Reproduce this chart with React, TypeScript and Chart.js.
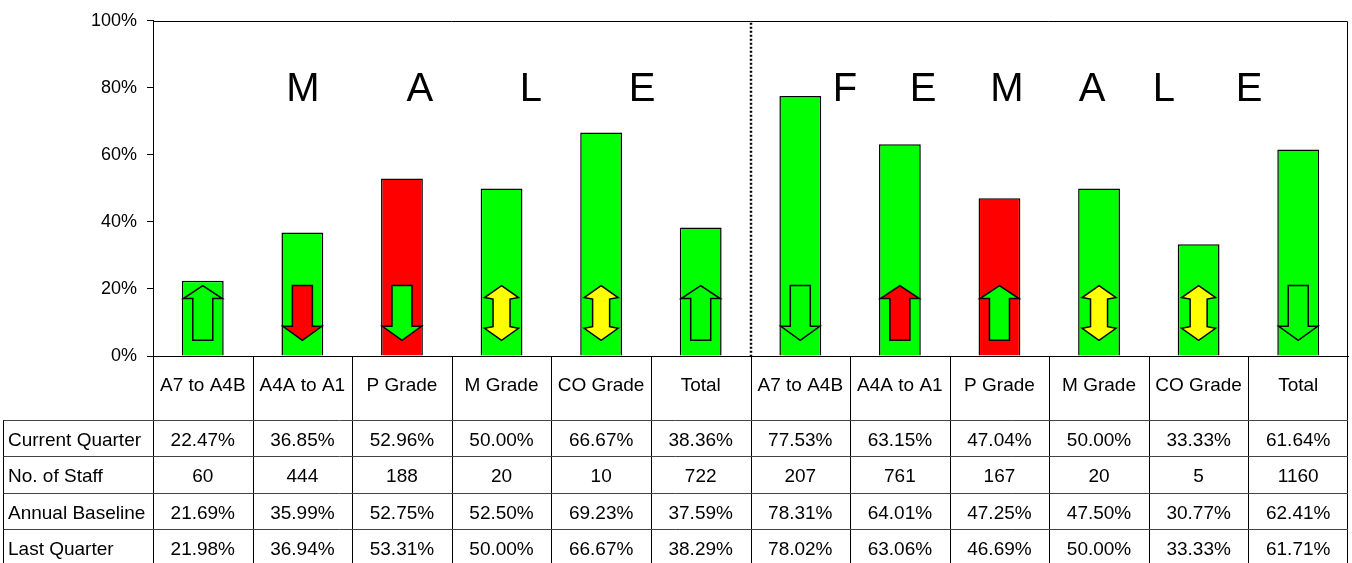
import React, { useEffect, useRef } from "react";
import { Chart, registerables } from "chart.js";

Chart.register(...registerables);

// ---------- data ----------
const categories = [
  "A7 to A4B", "A4A to A1", "P Grade", "M Grade", "CO Grade", "Total",
  "A7 to A4B", "A4A to A1", "P Grade", "M Grade", "CO Grade", "Total",
];
const currentQuarter = [22.47, 36.85, 52.96, 50.0, 66.67, 38.36, 77.53, 63.15, 47.04, 50.0, 33.33, 61.64];
const noOfStaff = [60, 444, 188, 20, 10, 722, 207, 761, 167, 20, 5, 1160];
const annualBaseline = [21.69, 35.99, 52.75, 52.5, 69.23, 37.59, 78.31, 64.01, 47.25, 47.5, 30.77, 62.41];
const lastQuarter = [21.98, 36.94, 53.31, 50.0, 66.67, 38.29, 78.02, 63.06, 46.69, 50.0, 33.33, 61.71];
const barStatus = ["green", "green", "red", "green", "green", "green", "green", "green", "red", "green", "green", "green"];
const trendDirection = ["up", "down", "down", "both", "both", "up", "down", "up", "up", "both", "both", "down"];
const trendStatus = ["green", "red", "green", "yellow", "yellow", "green", "green", "red", "green", "yellow", "yellow", "green"];
const rowLabels = ["Current Quarter", "No. of Staff", "Annual Baseline", "Last Quarter"];
const maleLetters = ["M", "A", "L", "E"];
const femaleLetters = ["F", "E", "M", "A", "L", "E"];
const yMin = 0;
const yMax = 100;
const yStep = 20;
const arrowTopValue = 21;
const arrowBottomValue = 4.7;
const lettersBaselineValue = 76;

// ---------- styles ----------
const FONT = "'Liberation Sans', Arial, sans-serif";
const COLORS: Record<string, string> = { green: "#00FF00", red: "#FF0000", yellow: "#FFFF00" };
const maleLetterFrac = [0.1255, 0.2234, 0.3163, 0.4092];
const femaleLetterFrac = [0.579, 0.6444, 0.7146, 0.7858, 0.846, 0.9172];

const pct = (v: number) => v.toFixed(2) + "%";

export default function App() {
  const ref = useRef<HTMLCanvasElement>(null);

  useEffect(() => {
    const canvas = ref.current;
    if (!canvas) return;

    const overlay = {
      id: "overlay",
      afterDatasetsDraw(chart: any) {
        const ctx = chart.ctx as CanvasRenderingContext2D;
        const meta = chart.getDatasetMeta(0);
        const ys = chart.scales.y;
        const yTop = ys.getPixelForValue(arrowTopValue);
        const yBot = ys.getPixelForValue(arrowBottomValue);
        ctx.save();
        ctx.lineWidth = 1.5;
        ctx.strokeStyle = "#000";
        ctx.lineJoin = "miter";
        meta.data.forEach((bar: any, i: number) => {
          const x = bar.x;
          const dir = trendDirection[i];
          ctx.fillStyle = COLORS[trendStatus[i]];
          ctx.beginPath();
          if (dir === "up") {
            const hw = 19.5, sw = 10, hh = 13;
            ctx.moveTo(x, yTop);
            ctx.lineTo(x + hw, yTop + hh);
            ctx.lineTo(x + sw, yTop + hh);
            ctx.lineTo(x + sw, yBot);
            ctx.lineTo(x - sw, yBot);
            ctx.lineTo(x - sw, yTop + hh);
            ctx.lineTo(x - hw, yTop + hh);
          } else if (dir === "down") {
            const hw = 19.5, sw = 10, hh = 14;
            ctx.moveTo(x - sw, yTop);
            ctx.lineTo(x + sw, yTop);
            ctx.lineTo(x + sw, yBot - hh);
            ctx.lineTo(x + hw, yBot - hh);
            ctx.lineTo(x, yBot);
            ctx.lineTo(x - hw, yBot - hh);
            ctx.lineTo(x - sw, yBot - hh);
          } else {
            const hw = 17, sw = 8.5, hh = 12;
            ctx.moveTo(x, yTop);
            ctx.lineTo(x + hw, yTop + hh);
            ctx.lineTo(x + sw, yTop + hh + 1.5);
            ctx.lineTo(x + sw, yBot - hh - 1.5);
            ctx.lineTo(x + hw, yBot - hh);
            ctx.lineTo(x, yBot);
            ctx.lineTo(x - hw, yBot - hh);
            ctx.lineTo(x - sw, yBot - hh - 1.5);
            ctx.lineTo(x - sw, yTop + hh + 1.5);
            ctx.lineTo(x - hw, yTop + hh);
          }
          ctx.closePath();
          ctx.fill();
          ctx.stroke();
        });
        ctx.restore();
      },
      afterDraw(chart: any) {
        const ctx = chart.ctx as CanvasRenderingContext2D;
        const area = chart.chartArea;
        const xs = chart.scales.x;
        const ys = chart.scales.y;
        const n = categories.length;
        const colW = (area.right - area.left) / n;
        const bounds: number[] = [];
        for (let i = 0; i <= n; i++) bounds.push(area.left + i * colW);

        ctx.save();
        // plot box (top & right)
        ctx.strokeStyle = "#000";
        ctx.lineWidth = 1;
        ctx.beginPath();
        ctx.moveTo(area.left, Math.round(area.top) + 0.5);
        ctx.lineTo(Math.round(area.right) - 0.5, Math.round(area.top) + 0.5);
        ctx.lineTo(Math.round(area.right) - 0.5, area.bottom);
        ctx.stroke();

        // dotted separator between male & female
        const sepX = Math.round((xs.getPixelForValue(5) + xs.getPixelForValue(6)) / 2);
        ctx.save();
        ctx.setLineDash([2, 2]);
        ctx.lineWidth = 2.5;
        ctx.beginPath();
        ctx.moveTo(sepX, area.top + 2);
        ctx.lineTo(sepX, area.bottom);
        ctx.stroke();
        ctx.restore();

        // big letters
        ctx.fillStyle = "#000";
        ctx.font = `40px ${FONT}`;
        ctx.textAlign = "center";
        ctx.textBaseline = "alphabetic";
        const ly = ys.getPixelForValue(lettersBaselineValue);
        maleLetters.forEach((l, i) => ctx.fillText(l, area.left + maleLetterFrac[i] * (area.right - area.left), ly));
        femaleLetters.forEach((l, i) => ctx.fillText(l, area.left + femaleLetterFrac[i] * (area.right - area.left), ly));

        // data table
        const headerBottom = area.bottom + 64;
        const rowH = 36.3;
        const tableLeft = 3.5;
        const canvasH = chart.height;
        const rows = [
          currentQuarter.map(pct),
          noOfStaff.map((v) => String(v)),
          annualBaseline.map(pct),
          lastQuarter.map(pct),
        ];
        // vertical lines
        ctx.strokeStyle = "#000";
        ctx.lineWidth = 1;
        bounds.forEach((bx, bi) => {
          const px = Math.round(bx) + 0.5 - (bi === n ? 1 : 0);
          ctx.beginPath();
          ctx.moveTo(px, area.bottom);
          ctx.lineTo(px, canvasH);
          ctx.stroke();
        });
        ctx.beginPath();
        ctx.moveTo(tableLeft, headerBottom);
        ctx.lineTo(tableLeft, canvasH);
        ctx.stroke();
        // horizontal lines
        ctx.strokeStyle = "#444";
        for (let r = 0; r < rows.length; r++) {
          const yy = Math.round(headerBottom + r * rowH) + 0.5;
          ctx.beginPath();
          ctx.moveTo(tableLeft, yy);
          ctx.lineTo(area.right, yy);
          ctx.stroke();
        }
        // texts
        ctx.fillStyle = "#000";
        ctx.font = `19px ${FONT}`;
        rows.forEach((vals, r) => {
          const baseY = headerBottom + r * rowH + 26;
          ctx.textAlign = "left";
          ctx.fillText(rowLabels[r], 8, baseY);
          ctx.textAlign = "center";
          vals.forEach((t, i) => ctx.fillText(t, xs.getPixelForValue(i), baseY));
        });
        ctx.restore();
      },
    };

    const chart = new Chart(canvas, {
      type: "bar",
      data: {
        labels: categories,
        datasets: [
          {
            label: "Current Quarter",
            data: currentQuarter,
            backgroundColor: barStatus.map((s) => COLORS[s]),
            borderColor: "#000",
            borderWidth: 1.5,
            categoryPercentage: 1,
            barPercentage: 0.42,
          },
        ],
      },
      options: {
        responsive: false,
        animation: false,
        devicePixelRatio: 1,
        layout: { padding: { top: 19, right: 4, left: 0, bottom: 0 } },
        plugins: { legend: { display: false }, tooltip: { enabled: false } },
        scales: {
          x: {
            grid: { display: false, drawTicks: false },
            border: { display: true, color: "#000", width: 1 },
            ticks: {
              color: "#000",
              font: { family: FONT, size: 19 },
              padding: 18,
              maxRotation: 0,
              autoSkip: false,
            },
            afterFit: (scale: any) => {
              scale.height = 207;
            },
          },
          y: {
            min: yMin,
            max: yMax,
            grid: { drawOnChartArea: false, drawTicks: true, tickLength: 6, color: "#000" },
            border: { display: true, color: "#000", width: 1 },
            ticks: {
              stepSize: yStep,
              color: "#000",
              font: { family: FONT, size: 18 },
              padding: 10,
              callback: (v: any) => v + "%",
            },
            afterFit: (scale: any) => {
              scale.width = 153;
            },
          },
        },
      },
      plugins: [overlay],
    });
    return () => chart.destroy();
  }, []);

  return (
    <div style={{ position: "fixed", left: 0, top: 0, width: 1352, height: 563, background: "#fff", overflow: "hidden" }}>
      <canvas ref={ref} width={1352} height={563} style={{ display: "block" }} />
    </div>
  );
}
